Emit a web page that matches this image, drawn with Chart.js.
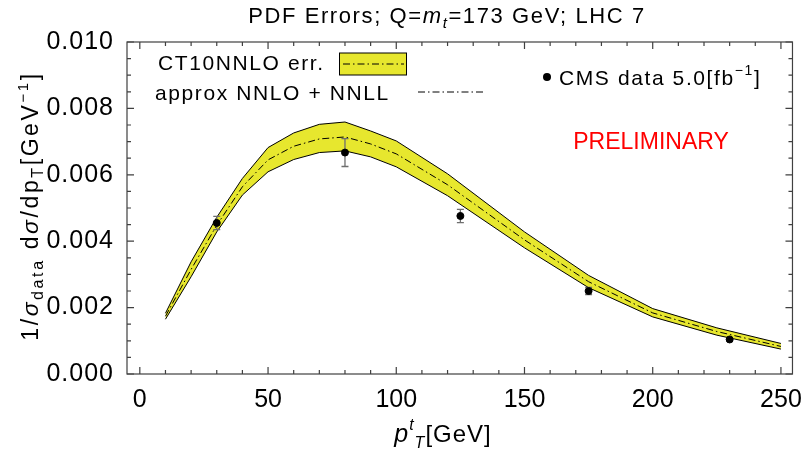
<!DOCTYPE html>
<html>
<head>
<meta charset="utf-8">
<script src="https://cdn.jsdelivr.net/npm/chart.js@4.4.1/dist/chart.umd.min.js"></script>
<style>
  html, body { margin: 0; padding: 0; background: #fff; }
</style>
</head>
<body>
<canvas id="chart" width="805" height="451"></canvas>
<script>
// theory band: CT10NNLO, approx NNLO + NNLL
const ptGrid  = [10, 20, 30, 40, 50, 60, 70, 80, 90, 100, 120, 150, 175, 200, 225, 250];
const central = [0.00174, 0.00315, 0.00448, 0.00564, 0.00645, 0.00686, 0.00708, 0.00714, 0.00693, 0.00663, 0.00570, 0.00404, 0.00278, 0.00184, 0.00128, 0.00083];
const upper   = [0.00183, 0.00338, 0.00472, 0.00589, 0.00682, 0.00726, 0.00752, 0.00759, 0.00732, 0.00702, 0.00603, 0.00428, 0.00297, 0.00197, 0.00139, 0.00092];
const lower   = [0.00165, 0.00293, 0.00428, 0.00539, 0.00609, 0.00646, 0.00667, 0.00672, 0.00654, 0.00624, 0.00537, 0.00380, 0.00260, 0.00172, 0.00117, 0.00075];

// CMS data 5.0 fb^-1
const cmsPt  = [30, 80, 125, 175, 230];
const cmsVal = [0.00455, 0.00667, 0.00476, 0.00250, 0.00104];
const cmsErr = [0.00020, 0.00042, 0.00020, 0.00011, 0.00004];

// ticks
const xMajor = [0, 50, 100, 150, 200, 250];
const xMinor = [10, 20, 30, 40, 60, 70, 80, 90, 110, 120, 130, 140, 160, 170, 180, 190, 210, 220, 230, 240];
const yMajor = [0, 0.002, 0.004, 0.006, 0.008, 0.010];
const yMinor = [0.0005, 0.001, 0.0015, 0.0025, 0.003, 0.0035, 0.0045, 0.005, 0.0055, 0.0065, 0.007, 0.0075, 0.0085, 0.009, 0.0095];

const FONT = '"Liberation Sans", Arial, sans-serif';
const BAND = 'rgb(231,231,46)';

function pts(xs, ys) {
    return xs.map((x, i) => ({ x: x, y: ys[i] }));
}

// draw a run of text pieces: [text, size, italic, dy]
function richText(ctx, parts, x, y, spacing) {
    ctx.letterSpacing = (spacing || 0) + 'px';
    let w = 0;
    parts.forEach(p => {
        ctx.font = (p[2] ? 'italic ' : '') + p[1] + 'px ' + FONT;
        w += ctx.measureText(p[0]).width;
    });
    let cx = x - w / 2;
    parts.forEach(p => {
        ctx.font = (p[2] ? 'italic ' : '') + p[1] + 'px ' + FONT;
        ctx.fillText(p[0], cx, y + (p[3] || 0));
        cx += ctx.measureText(p[0]).width;
    });
    ctx.letterSpacing = '0px';
}

const errorBars = {
    id: 'errorBars',
    beforeDatasetDraw(chart, args) {
        if (args.index !== 3) return;
        const ctx = chart.ctx, xs = chart.scales.x, ys = chart.scales.y;
        ctx.save();
        ctx.strokeStyle = '#6e6e6e';
        ctx.lineWidth = 1.3;
        cmsPt.forEach((p, i) => {
            const px = xs.getPixelForValue(p);
            const top = ys.getPixelForValue(cmsVal[i] + cmsErr[i]);
            const bot = ys.getPixelForValue(cmsVal[i] - cmsErr[i]);
            ctx.beginPath();
            ctx.moveTo(px, top); ctx.lineTo(px, bot);
            ctx.moveTo(px - 3.5, top); ctx.lineTo(px + 3.5, top);
            ctx.moveTo(px - 3.5, bot); ctx.lineTo(px + 3.5, bot);
            ctx.stroke();
        });
        ctx.restore();
    }
};

const frame = {
    id: 'frame',
    beforeDraw(chart) {
        // slightly spaced y tick labels
        const s = chart.scales.y;
        if (!s._spaced) {
            const orig = s.drawLabels;
            s.drawLabels = function (a) {
                this.ctx.save();
                this.ctx.letterSpacing = '1px';
                orig.call(this, a);
                this.ctx.restore();
            };
            s._spaced = true;
        }
    },
    afterDraw(chart) {
        const ctx = chart.ctx, a = chart.chartArea;
        const xs = chart.scales.x, ys = chart.scales.y;
        ctx.save();
        ctx.strokeStyle = '#404040';
        ctx.lineWidth = 1.2;
        ctx.strokeRect(a.left, a.top, a.right - a.left, a.bottom - a.top);
        ctx.beginPath();
        const xt = (v, len) => {
            const p = xs.getPixelForValue(v);
            ctx.moveTo(p, a.bottom); ctx.lineTo(p, a.bottom - len);
            ctx.moveTo(p, a.top); ctx.lineTo(p, a.top + len);
        };
        const yt = (v, len) => {
            const p = ys.getPixelForValue(v);
            ctx.moveTo(a.left, p); ctx.lineTo(a.left + len, p);
            ctx.moveTo(a.right, p); ctx.lineTo(a.right - len, p);
        };
        xMajor.forEach(v => xt(v, 7));
        xMinor.forEach(v => xt(v, 4));
        yMajor.forEach(v => yt(v, 7));
        yMinor.forEach(v => yt(v, 4));
        ctx.stroke();

        ctx.fillStyle = '#000';
        ctx.textBaseline = 'alphabetic';
        // title
        richText(ctx, [['PDF Errors; Q=', 22], ['m', 22, true], ['t', 15, true, 5], ['=173 GeV; LHC 7', 22]], 447, 23, 1.6);
        // x title
        richText(ctx, [['p', 25, true], ['t', 16, true, -12], ['T', 16, true, 6], ['[GeV]', 24]], 443, 442, 1);
        // y title
        ctx.save();
        ctx.translate(38, 206);
        ctx.rotate(-Math.PI / 2);
        richText(ctx, [['1/', 23], ['σ', 23, true], ['data', 16, false, 5], [' d', 23], ['σ', 23, true], ['/dp', 23], ['T', 16, false, 5],
                       ['[GeV', 23], ['−1', 15, false, -10], [']', 23]], 0, 0, 2.6);
        ctx.restore();

        // legend
        ctx.textAlign = 'left';
        ctx.letterSpacing = '1.6px';
        ctx.font = '21px ' + FONT;
        ctx.fillText('CT10NNLO err.', 158, 70);
        ctx.fillText('approx NNLO + NNLL', 155, 100);
        ctx.fillStyle = BAND;
        ctx.fillRect(339.5, 53, 67, 22);
        ctx.strokeStyle = '#000';
        ctx.lineWidth = 1;
        ctx.strokeRect(339.5, 53, 67, 22);
        ctx.setLineDash([7, 3, 1.5, 3]);
        ctx.beginPath();
        ctx.moveTo(343, 64); ctx.lineTo(404, 64);
        ctx.moveTo(418, 92); ctx.lineTo(486, 92);
        ctx.stroke();
        ctx.setLineDash([]);

        ctx.fillStyle = '#000';
        ctx.beginPath();
        ctx.arc(547, 77, 4, 0, Math.PI * 2);
        ctx.fill();
        ctx.font = '21px ' + FONT;
        ctx.fillText('CMS data 5.0[fb', 559, 85);
        const w = ctx.measureText('CMS data 5.0[fb').width;
        ctx.font = '14px ' + FONT;
        ctx.fillText('−1', 559 + w, 75);
        const w2 = ctx.measureText('−1').width;
        ctx.font = '21px ' + FONT;
        ctx.fillText(']', 559 + w + w2, 85);

        ctx.fillStyle = '#ff0000';
        ctx.font = '23px ' + FONT;
        ctx.letterSpacing = '0px';
        ctx.textAlign = 'center';
        ctx.fillText('PRELIMINARY', 651, 149);
        ctx.restore();
    }
};

new Chart(document.getElementById('chart'), {
    type: 'line',
    data: {
        datasets: [
            {
                label: 'CT10NNLO err. upper',
                data: pts(ptGrid, upper),
                borderColor: '#000',
                borderWidth: 1,
                backgroundColor: BAND,
                fill: '+1',
                pointRadius: 0,
                tension: 0,
                order: 3
            },
            {
                label: 'CT10NNLO err. lower',
                data: pts(ptGrid, lower),
                borderColor: '#000',
                borderWidth: 1,
                fill: false,
                pointRadius: 0,
                tension: 0,
                order: 2
            },
            {
                label: 'approx NNLO + NNLL',
                data: pts(ptGrid, central),
                borderColor: '#000',
                borderWidth: 1,
                borderDash: [7, 3, 1.5, 3],
                fill: false,
                pointRadius: 0,
                tension: 0,
                order: 1
            },
            {
                label: 'CMS data 5.0[fb-1]',
                type: 'scatter',
                data: pts(cmsPt, cmsVal),
                backgroundColor: '#000',
                borderColor: '#000',
                pointRadius: 3.5,
                order: 0
            }
        ]
    },
    options: {
        responsive: false,
        animation: false,
        layout: { padding: { top: 42, right: 12, left: 0, bottom: 0 } },
        plugins: {
            legend: { display: false },
            tooltip: { enabled: false }
        },
        scales: {
            x: {
                type: 'linear',
                min: -5,
                max: 254.5,
                grid: { display: false },
                border: { display: false },
                afterBuildTicks: s => { s.ticks = xMajor.map(v => ({ value: v })); },
                afterFit: s => { s.height = 77; },
                ticks: {
                    color: '#000',
                    padding: 3,
                    maxRotation: 0,
                    font: { family: FONT, size: 25 }
                }
            },
            y: {
                type: 'linear',
                min: 0,
                max: 0.010,
                grid: { display: false },
                border: { display: false },
                afterBuildTicks: s => { s.ticks = yMajor.map(v => ({ value: v })); },
                afterFit: s => { s.width = 127; },
                ticks: {
                    color: '#000',
                    padding: 5,
                    font: { family: FONT, size: 25 },
                    callback: v => v.toFixed(3)
                }
            }
        }
    },
    plugins: [errorBars, frame]
});
</script>
</body>
</html>
